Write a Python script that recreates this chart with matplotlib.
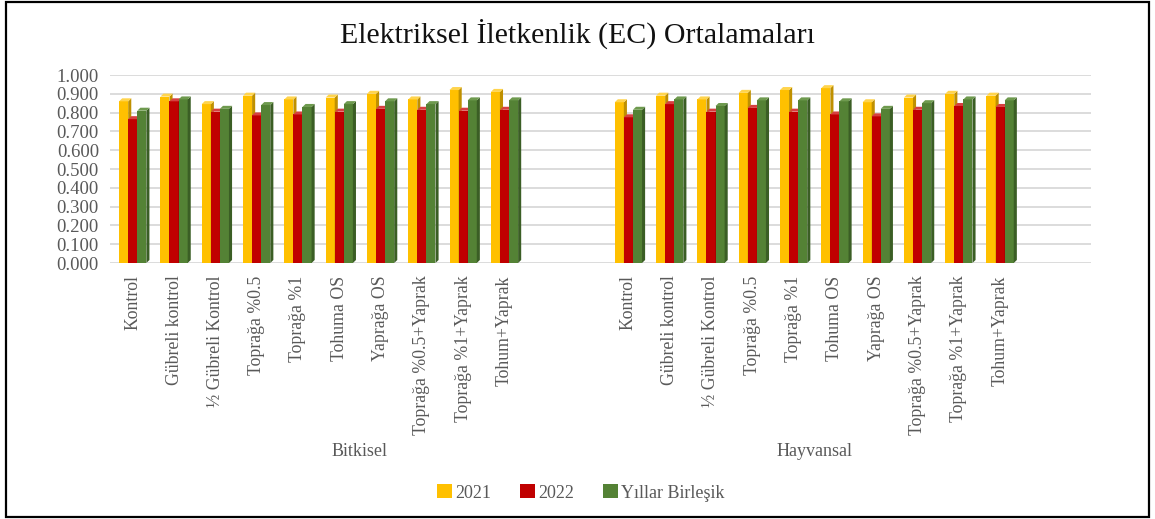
import matplotlib
matplotlib.use("Agg")
import matplotlib.pyplot as plt
import numpy as np
from matplotlib.patches import Polygon, Rectangle

plt.rcParams['font.family'] = ['Liberation Serif', 'DejaVu Serif']

categories = ['Kontrol', 'Gübreli kontrol', '½ Gübreli Kontrol', 'Toprağa %0.5',
              'Toprağa %1', 'Tohuma OS', 'Yaprağa OS', 'Toprağa %0.5+Yaprak',
              'Toprağa %1+Yaprak', 'Tohum+Yaprak']
groups = ['Bitkisel', 'Hayvansal']
series = ['2021', '2022', 'Yıllar Birleşik']

bitkisel_2021 = [0.86, 0.885, 0.845, 0.89, 0.87, 0.88, 0.90, 0.87, 0.92, 0.91]
bitkisel_2022 = [0.765, 0.86, 0.805, 0.785, 0.79, 0.805, 0.82, 0.815, 0.81, 0.815]
bitkisel_birl = [0.81, 0.87, 0.82, 0.84, 0.83, 0.845, 0.86, 0.845, 0.865, 0.865]
hayvansal_2021 = [0.855, 0.89, 0.87, 0.905, 0.92, 0.93, 0.855, 0.88, 0.90, 0.89]
hayvansal_2022 = [0.775, 0.845, 0.805, 0.825, 0.805, 0.79, 0.78, 0.815, 0.835, 0.83]
hayvansal_birl = [0.815, 0.87, 0.835, 0.865, 0.865, 0.86, 0.82, 0.85, 0.87, 0.865]

colors = ['#FFC000', '#C00000', '#548235']
side_colors = ['#BF9000', '#8C0000', '#3B5E25']
top_colors = ['#FFD44D', '#D64040', '#6E9A4E']
gray = '#595959'

# two empty category slots after each group (like the excel sheet)
pos_b = np.arange(10)
pos_h = np.arange(10) + 12
x = np.concatenate([pos_b, pos_h])
data = [bitkisel_2021 + hayvansal_2021,
        bitkisel_2022 + hayvansal_2022,
        bitkisel_birl + hayvansal_birl]

fig = plt.figure(figsize=(11.55, 5.19), dpi=100)
ax = fig.add_axes([110 / 1155, 1 - 263 / 519, 981 / 1155, 188 / 519])

bw = 0.22
dx, dy = 0.075, 0.016


def add_3d(ax, bars, side_c, top_c, z):
    for b in bars:
        x0, w, h = b.get_x(), b.get_width(), b.get_height()
        side = Polygon([(x0 + w, 0), (x0 + w + dx, dy), (x0 + w + dx, h + dy), (x0 + w, h)],
                       closed=True, fc=side_c, ec='none', zorder=z, clip_on=False)
        top = Polygon([(x0, h), (x0 + dx, h + dy), (x0 + w + dx, h + dy), (x0 + w, h)],
                      closed=True, fc=top_c, ec='none', zorder=z, clip_on=False)
        ax.add_patch(side)
        ax.add_patch(top)


for k in range(3):
    bars = ax.bar(x + (k - 1) * bw, data[k], bw, color=colors[k], zorder=3 + k,
                  label=series[k], clip_on=False)
    add_3d(ax, bars, side_colors[k], top_colors[k], 3 + k)

ax.set_xlim(-0.55, 23.2)
ax.set_ylim(0, 1.0)
ax.set_yticks(np.arange(0, 1.01, 0.1))
ax.set_yticklabels(['%.3f' % v for v in np.arange(0, 1.01, 0.1)], color=gray, fontsize=13.5)
for v in np.arange(0, 1.01, 0.1):
    ax.axhline(v, color='#D9D9D9', lw=1.3, zorder=1)
for s in ax.spines.values():
    s.set_visible(False)
ax.tick_params(axis='y', length=0, pad=8)
ax.set_xticks(x)
ax.set_xticklabels(categories + categories, rotation=90, fontsize=12.8, color=gray,
                   va='top', ha='center')
ax.tick_params(axis='x', length=0, pad=9)

# group labels, centred under their block of slots
for g, lo, hi in [(groups[0], 0, 11), (groups[1], 12, 21)]:
    ax.text((lo + hi) / 2, 0, g, transform=ax.get_xaxis_transform(),
            ha='center', va='center', fontsize=13, color=gray)
    ax.texts[-1].set_y(-(452 - 263) / 188)

fig.text(0.5, 1 - 34 / 519, 'Elektriksel İletkenlik (EC) Ortalamaları',
         ha='center', va='center', fontsize=21.5, color='#111111')

leg = fig.legend(loc='center', bbox_to_anchor=(581 / 1155, 1 - 493 / 519), ncol=3,
                 frameon=False, fontsize=13, handlelength=0.8, handleheight=0.8,
                 handletextpad=0.2, columnspacing=1.6)
for t in leg.get_texts():
    t.set_color(gray)

fig.patches.append(Rectangle((6 / 1155, 2 / 519), 1143 / 1155, 515 / 519,
                             transform=fig.transFigure, fill=False, ec='black', lw=1.6))

fig.savefig('out.png', dpi=100)
